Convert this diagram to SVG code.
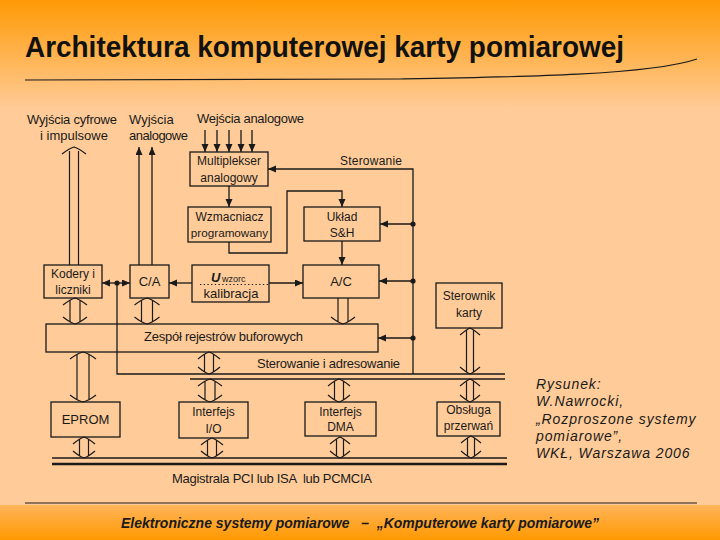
<svg xmlns="http://www.w3.org/2000/svg" width="720" height="540" viewBox="0 0 720 540">
<defs>
<linearGradient id="bgTop" x1="0" y1="0" x2="0" y2="1">
<stop offset="0" stop-color="#FF9A05"/>
<stop offset="1" stop-color="#FFCC99"/>
</linearGradient>
<linearGradient id="bgBot" x1="0" y1="0" x2="0" y2="1">
<stop offset="0" stop-color="#FFB45A"/>
<stop offset="1" stop-color="#FF9900"/>
</linearGradient>
<marker id="ah" markerUnits="userSpaceOnUse" markerWidth="9" markerHeight="8" refX="8" refY="3.5" orient="auto">
<path d="M0,0 L8,3.5 L0,7 z" fill="#1a1a1a"/>
</marker>
<style>
.box{fill:none;stroke:#1a1a1a;stroke-width:1.3}
.ln{fill:none;stroke:#1a1a1a;stroke-width:1.3}
.hl{fill:none;stroke:#1a1a1a;stroke-width:1.2}
.t{font-family:"Liberation Sans",Arial,sans-serif;font-size:12px;fill:#1a1a1a}
.o{font-size:13px}
.tc{text-anchor:middle}
.pre{white-space:pre}
.ref{font-family:"Liberation Sans",Arial,sans-serif;font-size:14px;font-style:italic;fill:#1a1a1a;letter-spacing:0.9px}
</style>
</defs>
<rect x="0" y="0" width="720" height="540" fill="#FFCC99"/>
<rect x="0" y="0" width="720" height="110" fill="url(#bgTop)"/>
<rect x="0" y="505" width="720" height="35" fill="url(#bgBot)"/>

<text x="25" y="57" font-family="Liberation Sans,Arial,sans-serif" font-weight="bold" font-size="30" fill="#111" textLength="599" lengthAdjust="spacingAndGlyphs">Architektura komputerowej karty pomiarowej</text>
<path d="M25,80 L400,79 C520,77 650,75 697,59" fill="none" stroke="#1a1a1a" stroke-width="1.2"/>
<line x1="25" y1="503" x2="697" y2="503" stroke="#1a1a1a" stroke-width="1.2"/>
<text class="pre" xml:space="preserve" x="121" y="528" font-family="Liberation Sans,Arial,sans-serif" font-weight="bold" font-style="italic" font-size="14" fill="#1a1a1a" textLength="478" lengthAdjust="spacingAndGlyphs">Elektroniczne systemy pomiarowe   –  „Komputerowe karty pomiarowe”</text>

<g id="labels">
<text class="t o" x="27" y="124" textLength="90">Wyjścia cyfrowe</text>
<text class="t o" x="40" y="140">i impulsowe</text>
<text class="t o" x="129" y="124">Wyjścia</text>
<text class="t o" x="129" y="140" textLength="59">analogowe</text>
<text class="t o" x="197" y="123" textLength="107">Wejścia analogowe</text>
<text class="t" x="340" y="165" textLength="62">Sterowanie</text>
<text class="t o" x="144" y="341" textLength="159">Zespół rejestrów buforowych</text>
<text class="t o" x="257" y="368" textLength="143">Sterowanie i adresowanie</text>
<text class="t o pre" xml:space="preserve" x="172" y="483" textLength="200">Magistrala PCI lub ISA  lub PCMCIA</text>
</g>

<g id="mux"><rect class="box" x="190" y="152" width="78" height="34"/>
<text class="t tc" x="229" y="165">Multiplekser</text><text class="t tc" x="229" y="182">analogowy</text></g>
<g id="wzm"><rect class="box" x="188" y="207" width="83" height="35"/>
<text class="t tc" x="229.5" y="221">Wzmacniacz</text><text class="t tc" x="229.5" y="237" style="font-size:11.7px">programowany</text></g>
<g id="sh"><rect class="box" x="304" y="207" width="76" height="34"/>
<text class="t tc" x="342" y="221">Układ</text><text class="t tc" x="342" y="237">S&amp;H</text></g>
<g id="ac"><rect class="box" x="303" y="265" width="76" height="33"/>
<text class="t tc o" x="341" y="286">A/C</text></g>
<g id="uwzorc"><rect class="box" x="192" y="265" width="77" height="37"/>
<text class="t" x="211" y="282" font-weight="bold" font-style="italic" style="font-size:13px">U</text>
<text class="t" x="222" y="282" style="font-size:9px">wzorc</text>
<line x1="200" y1="284.5" x2="269" y2="284.5" stroke="#1a1a1a" stroke-width="1.2" stroke-dasharray="1.3,2.4"/>
<text class="t tc o" x="231" y="298">kalibracja</text></g>
<g id="ca"><rect class="box" x="130" y="265" width="39" height="33"/>
<text class="t tc o" x="149.5" y="286">C/A</text></g>
<g id="kodery"><rect class="box" x="44" y="265" width="58" height="33"/>
<text class="t tc" x="73" y="278">Kodery i</text><text class="t tc" x="73" y="294">liczniki</text></g>
<g id="zespol"><rect class="box" x="46" y="324" width="332" height="28"/></g>
<g id="sterownik"><rect class="box" x="436" y="283" width="66" height="45"/>
<text class="t tc" x="469" y="300">Sterownik</text><text class="t tc" x="469" y="317">karty</text></g>
<g id="eprom"><rect class="box" x="51" y="402" width="69" height="35"/>
<text class="t tc o" x="85.5" y="424">EPROM</text></g>
<g id="io"><rect class="box" x="179" y="402" width="69" height="36"/>
<text class="t tc" x="213.5" y="416">Interfejs</text><text class="t tc" x="213.5" y="433">I/O</text></g>
<g id="dma"><rect class="box" x="305" y="402" width="71" height="34"/>
<text class="t tc" x="340.5" y="416">Interfejs</text><text class="t tc" x="340.5" y="431">DMA</text></g>
<g id="obsluga"><rect class="box" x="437" y="402" width="63" height="34"/>
<text class="t tc" x="468.5" y="414">Obsługa</text><text class="t tc" x="468.5" y="430">przerwań</text></g>

<g id="connectors">
<path class="ln" d="M205,130 V152" marker-end="url(#ah)"/>
<path class="ln" d="M217,130 V152" marker-end="url(#ah)"/>
<path class="ln" d="M229,130 V152" marker-end="url(#ah)"/>
<path class="ln" d="M241,130 V152" marker-end="url(#ah)"/>
<path class="ln" d="M252,130 V152" marker-end="url(#ah)"/>
<path class="ln" d="M139,265 V147" marker-end="url(#ah)"/>
<path class="ln" d="M152,265 V147" marker-end="url(#ah)"/>
<path class="ln" d="M229,186 V207" marker-end="url(#ah)"/>
<path class="ln" d="M229,242 V253 H287 V191 H342 V207" marker-end="url(#ah)"/>
<path class="ln" d="M342,241 V265" marker-end="url(#ah)"/>
<path class="ln" d="M413,374 V169 H268" marker-end="url(#ah)"/>
<path class="ln" d="M413,224 H380" marker-end="url(#ah)"/>
<path class="ln" d="M413,281 H379" marker-end="url(#ah)"/>
<path class="ln" d="M413,338 H378" marker-end="url(#ah)"/>
<circle cx="413" cy="224" r="2.6" fill="#1a1a1a"/>
<circle cx="413" cy="281" r="2.6" fill="#1a1a1a"/>
<circle cx="413" cy="338" r="2.6" fill="#1a1a1a"/>
<path class="ln" d="M269,283 H303" marker-end="url(#ah)"/>
<path class="ln" d="M192,283 H169" marker-end="url(#ah)"/>
<path class="ln" d="M117,283 H102" marker-end="url(#ah)"/>
<path class="ln" d="M117,283 H130" marker-end="url(#ah)"/>
<circle cx="117" cy="283" r="2.6" fill="#1a1a1a"/>
<path class="ln" d="M117,283 V374 H505"/>
<path class="ln" d="M190,379 H505"/>
<line x1="52" y1="458" x2="507" y2="458" stroke="#1a1a1a" stroke-width="1.5"/>
<line x1="52" y1="464" x2="507" y2="464" stroke="#1a1a1a" stroke-width="2.6"/>
<path class="hl" d="M69.5,151 V265 M78.5,151 V265 M62,154 Q69,148.5 74,147 Q79,148.5 86,154"/>
<path class="hl" d="M70,300 V322 M80,300 V322 M63,305 Q70,299.5 75,298 Q80,299.5 87,305 M63,317 Q70,322.5 75,324 Q80,322.5 87,317"/>
<path class="hl" d="M141.5,300 V322 M152.5,300 V322 M134.5,305 Q141.5,299.5 147,298 Q152.5,299.5 159.5,305 M134.5,317 Q141.5,322.5 147,324 Q152.5,322.5 159.5,317"/>
<path class="hl" d="M338,298 V322 M348,298 V322 M331,317 Q338,322.5 343,324 Q348,322.5 355,317"/>
<path class="hl" d="M77,354 V400 M89,354 V400 M70,359 Q77,353.5 83,352 Q89,353.5 96,359 M70,395 Q77,400.5 83,402 Q89,400.5 96,395"/>
<path class="hl" d="M204.5,354 V372 M213.5,354 V372 M198,359 Q204.5,353.5 209,352 Q213.5,353.5 220,359 M198,367 Q204.5,372.5 209,374 Q213.5,372.5 220,367"/>
<path class="hl" d="M205,381 V400 M215,381 V400 M198,386 Q205,380.5 210,379 Q215,380.5 222,386 M198,395 Q205,400.5 210,402 Q215,400.5 222,395"/>
<path class="hl" d="M334.5,381 V400 M343.5,381 V400 M328,386 Q334.5,380.5 339,379 Q343.5,380.5 350,386 M328,395 Q334.5,400.5 339,402 Q343.5,400.5 350,395"/>
<path class="hl" d="M466.5,381 V400 M473.5,381 V400 M460,386 Q466.5,380.5 470,379 Q473.5,380.5 480,386 M460,395 Q466.5,400.5 470,402 Q473.5,400.5 480,395"/>
<path class="hl" d="M466.5,330 V372 M473.5,330 V372 M460,335 Q466.5,329.5 470,328 Q473.5,329.5 480,335 M460,367 Q466.5,372.5 470,374 Q473.5,372.5 480,367"/>
<path class="hl" d="M79.5,439 V456 M88.5,439 V456 M73,444 Q79.5,438.5 84,437 Q88.5,438.5 95,444 M73,451 Q79.5,456.5 84,458 Q88.5,456.5 95,451"/>
<path class="hl" d="M207.5,440 V456 M216.5,440 V456 M201,445 Q207.5,439.5 212,438 Q216.5,439.5 223,445 M201,451 Q207.5,456.5 212,458 Q216.5,456.5 223,451"/>
<path class="hl" d="M336.5,439 V456 M343.5,439 V456 M330,444 Q336.5,438.5 340,437 Q343.5,438.5 350,444 M330,451 Q336.5,456.5 340,458 Q343.5,456.5 350,451"/>
<path class="hl" d="M467.5,438 V456 M474.5,438 V456 M461,443 Q467.5,437.5 471,436 Q474.5,437.5 481,443 M461,451 Q467.5,456.5 471,458 Q474.5,456.5 481,451"/>
</g>

<g id="reference">
<text class="ref" x="536" y="389">Rysunek:</text>
<text class="ref" x="536" y="406">W.Nawrocki,</text>
<text class="ref" x="536" y="423.5">„Rozproszone systemy</text>
<text class="ref" x="536" y="441">pomiarowe”,</text>
<text class="ref" x="536" y="458">WKŁ, Warszawa 2006</text>
</g>
</svg>
